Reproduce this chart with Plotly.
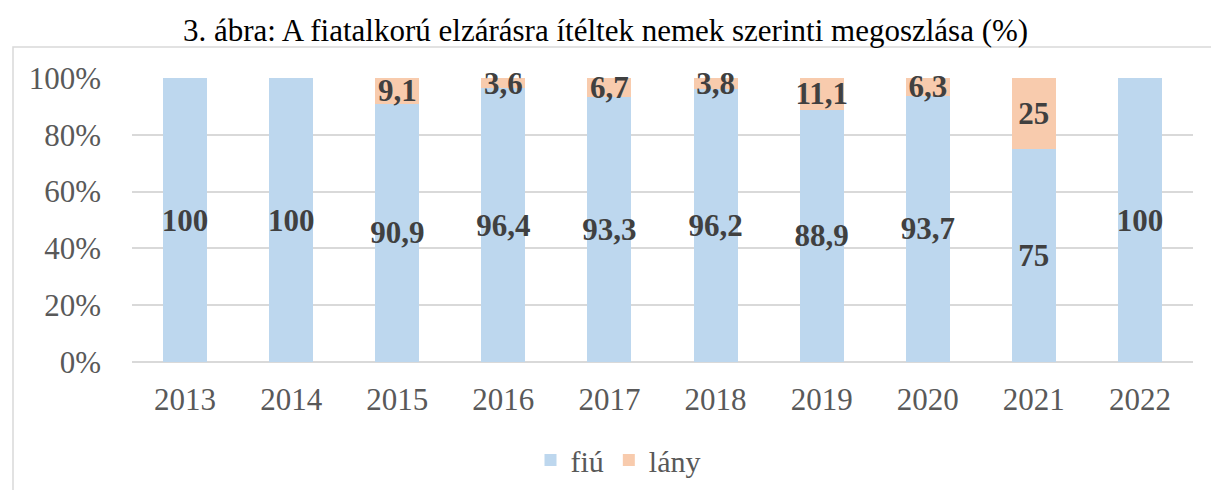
import plotly.graph_objects as go

years = ["2013", "2014", "2015", "2016", "2017", "2018", "2019", "2020", "2021", "2022"]
fiu = [100, 100, 90.9, 96.4, 93.3, 96.2, 88.9, 93.7, 75, 100]
lany = [0, 0, 9.1, 3.6, 6.7, 3.8, 11.1, 6.3, 25, 0]
series_names = ["fiú", "lány"]
colors = ["#BDD7EE", "#F8CBAD"]
y_ticks = [0, 20, 40, 60, 80, 100]
y_tick_labels = ["0%", "20%", "40%", "60%", "80%", "100%"]


def fmt(v):
    if not v:
        return ""
    return ("%g" % v).replace(".", ",")


FONT = "Liberation Serif"
fig = go.Figure()
for name, vals, col in zip(series_names, [fiu, lany], colors):
    fig.add_trace(go.Bar(
        x=years, y=vals, name=name, marker=dict(color=col, line=dict(width=0)),
        text=[fmt(v) for v in vals], textposition="inside", insidetextanchor="middle",
        constraintext="none", textangle=0, cliponaxis=False,
        textfont=dict(family=FONT, size=31, color="#404040", weight="bold"),
        hoverinfo="x+y",
    ))

W, H = 1211, 490
L, R, T, B = 132, 18, 78, 128
pw, ph = W - L - R, H - T - B

fig.update_layout(
    width=W, height=H, barmode="stack", bargap=0.585,
    margin=dict(l=L, r=R, t=T, b=B),
    plot_bgcolor="white", paper_bgcolor="white",
    font=dict(family=FONT, color="#595959", size=30),
    title=dict(text="3. ábra: A fiatalkorú elzárásra ítéltek nemek szerinti megoszlása (%)",
               x=0.5, xref="container", xanchor="center",
               y=1 - 30 / H, yref="container", yanchor="middle",
               font=dict(family=FONT, size=31, color="#000000")),
    legend=dict(orientation="h", x=618 / W, xanchor="center", xref="container",
                y=1 - 460 / H, yref="container", yanchor="middle",
                font=dict(family=FONT, size=30, color="#595959"),
                itemwidth=30, tracegroupgap=0, traceorder="normal"),
    showlegend=True,
)
fig.update_xaxes(showgrid=False, showline=False, ticks="", ticklabelstandoff=16,
                 tickfont=dict(family=FONT, size=31, color="#595959"))
fig.layout.yaxis = dict(
    range=[0, 100], tickmode="array", tickvals=y_ticks, ticktext=y_tick_labels,
    showgrid=True, gridcolor="#D9D9D9", gridwidth=1.5, zeroline=True,
    zerolinecolor="#D9D9D9", zerolinewidth=1.5, showline=False, ticks="",
    ticklabelstandoff=30, tickfont=dict(family=FONT, size=31, color="#595959"))

fig.add_shape(type="rect", xref="paper", yref="paper",
              x0=(13 - L) / pw, x1=(W + 5 - L) / pw,
              y0=-(H + 5 - (T + ph)) / ph,
              y1=(T + ph - 47) / ph,
              line=dict(color="#D9D9D9", width=1.5), layer="below")

fig.write_html("out.html", config={"displayModeBar": False},
               post_script="document.body.style.margin='0';document.body.style.overflow='hidden';")
